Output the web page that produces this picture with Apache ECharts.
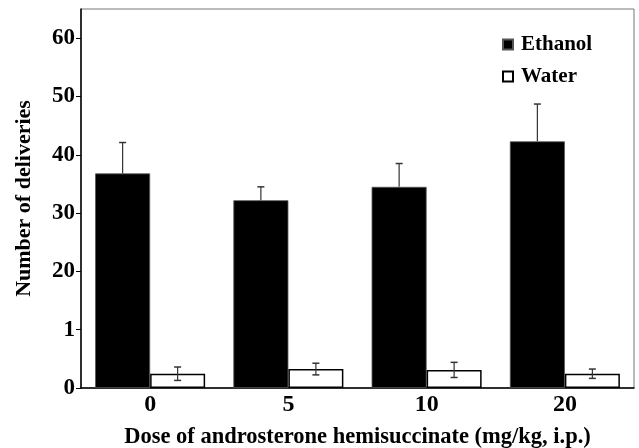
<!DOCTYPE html>
<html>
<head>
<meta charset="utf-8">
<script src="https://cdn.jsdelivr.net/npm/echarts@6/dist/echarts.min.js"></script>
<style>html,body{margin:0;padding:0;background:#fff;}#c{width:639px;height:448px;}</style>
</head>
<body>
<div id="c"></div>
<script>
var categories = ['0', '5', '10', '20'];
var ethanolMean = [36.8, 32.2, 34.5, 42.3];
var ethanolSE = [5.3, 2.3, 4.0, 6.4];
var waterMean = [2.45, 3.25, 3.1, 2.45];
var waterSE = [1.15, 1.0, 1.3, 0.8];
var yTickValues = [0, 10, 20, 30, 40, 50, 60];
var yTickLabels = ['0', '1', '20', '30', '40', '50', '60'];

var FONT = '"Liberation Serif", "Times New Roman", serif';
var BAR_W = 55;

function errRender(meanArr, seArr, side, both) {
  return function (params, api) {
    var i = api.value(0);
    var m = meanArr[i], s = seArr[i];
    var c = api.coord([i, m]);
    var x = c[0] + side * BAR_W / 2;
    var top = api.coord([i, m + s])[1];
    var bot = both ? api.coord([i, m - s])[1] : c[1];
    var cap = 3.5;
    var children = [
      {type: 'line', shape: {x1: x, y1: top, x2: x, y2: bot}, style: {stroke: '#333', lineWidth: 1.2}},
      {type: 'line', shape: {x1: x - cap, y1: top, x2: x + cap, y2: top}, style: {stroke: '#333', lineWidth: 1.5}}
    ];
    if (both) {
      children.push({type: 'line', shape: {x1: x - cap, y1: bot, x2: x + cap, y2: bot}, style: {stroke: '#333', lineWidth: 1.5}});
    }
    return {type: 'group', children: children};
  };
}

var chart = echarts.init(document.getElementById('c'));
chart.setOption({
  animation: false,
  backgroundColor: '#fff',
  grid: {left: 81, right: 5, top: 9, bottom: 60, show: true, borderColor: '#777', borderWidth: 1,
         containLabel: false, outerBoundsMode: 'none'},
  legend: {
    orient: 'vertical',
    left: 497,
    top: 29,
    itemWidth: 10,
    itemHeight: 10,
    itemGap: 11,
    icon: 'rect',
    data: ['Ethanol', 'Water'],
    textStyle: {fontFamily: FONT, fontWeight: 'bold', fontSize: 21, color: '#000', padding: [0, 0, 0, 3]}
  },
  xAxis: {
    type: 'category',
    data: categories,
    axisLine: {lineStyle: {color: '#000', width: 1.5}},
    axisTick: {alignWithLabel: true, length: 4, lineStyle: {color: '#000'}},
    axisLabel: {fontFamily: FONT, fontWeight: 'bold', fontSize: 24, color: '#000', margin: 5},
    name: 'Dose of androsterone hemisuccinate (mg/kg, i.p.)',
    nameLocation: 'middle',
    nameGap: 38,
    nameTextStyle: {fontFamily: FONT, fontWeight: 'bold', fontSize: 22.5, color: '#000'}
  },
  yAxis: {
    type: 'value',
    min: 0,
    max: 65,
    interval: 10,
    splitLine: {show: false},
    axisLine: {show: true, lineStyle: {color: '#000', width: 1.5}},
    axisTick: {show: true, length: 5, customValues: yTickValues, lineStyle: {color: '#000'}},
    axisLabel: {
      customValues: yTickValues,
      fontFamily: FONT, fontWeight: 'bold', fontSize: 23, color: '#000', margin: 6,
      formatter: function (v) { var k = yTickValues.indexOf(v); return k >= 0 ? yTickLabels[k] : ''; }
    },
    name: 'Number of deliveries',
    nameLocation: 'middle',
    nameGap: 46,
    nameTextStyle: {fontFamily: FONT, fontWeight: 'bold', fontSize: 22, color: '#000'}
  },
  series: [
    {
      name: 'Ethanol', type: 'bar', data: ethanolMean, barWidth: BAR_W, barGap: '0%',
      itemStyle: {color: '#000', borderColor: '#555', borderWidth: 0.8}
    },
    {
      name: 'Water', type: 'bar', data: waterMean, barWidth: BAR_W, barGap: '0%',
      itemStyle: {color: '#fff', borderColor: '#000', borderWidth: 1.5}
    },
    {
      type: 'custom', name: 'ethErr', data: categories.map(function (c, i) { return [i]; }),
      renderItem: errRender(ethanolMean, ethanolSE, -1, false), z: 5
    },
    {
      type: 'custom', name: 'watErr', data: categories.map(function (c, i) { return [i]; }),
      renderItem: errRender(waterMean, waterSE, 1, true), z: 5
    }
  ]
});
</script>
</body>
</html>
